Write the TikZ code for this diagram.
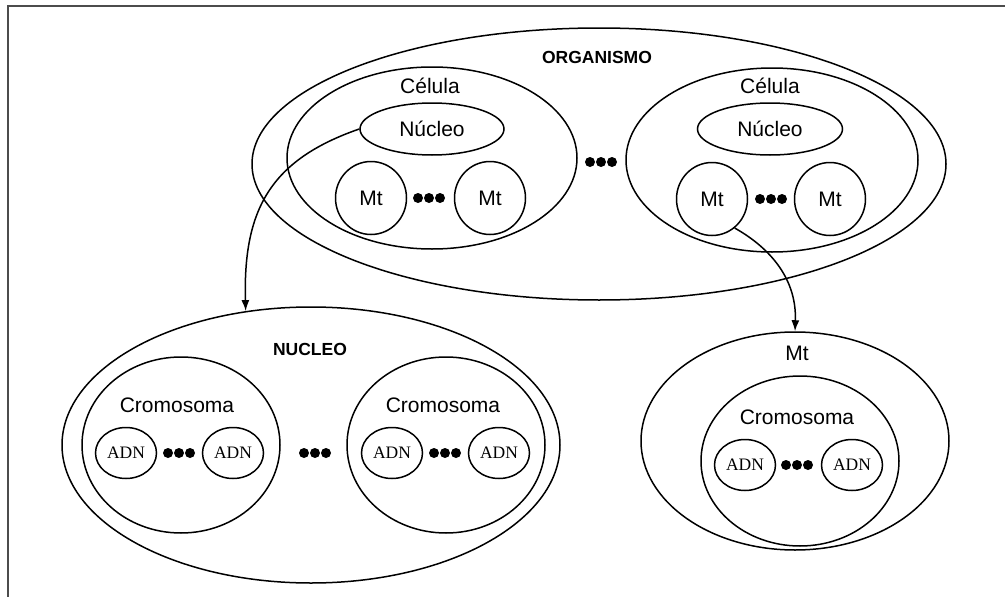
\documentclass[tikz,border=0pt]{standalone}
\usepackage{fontspec}
\setmainfont{Liberation Sans}
\newfontfamily\adnfont{Liberation Serif}
\usetikzlibrary{shapes.geometric,arrows.meta}
\tikzset{
  ell/.style={draw, ellipse, line width=1.5pt, inner sep=0pt},
  lbl/.style={inner sep=0pt, font=\fontsize{21}{21}\selectfont},
  blbl/.style={inner sep=0pt, font=\fontsize{17.5}{17.5}\selectfont\bfseries},
  adn/.style={ell, minimum width=61pt, minimum height=51pt, font=\adnfont\fontsize{17.5}{17.5}\selectfont},
  mt/.style={ell, minimum width=71pt, minimum height=73pt, font=\fontsize{21}{21}\selectfont},
  conn/.style={line width=1.5pt, -{Latex[length=11pt,width=8pt]}},
  frame/.style={line width=2pt, draw=black!70},
  tres/.pic={\fill (-11,0) circle (5pt) (0,0) circle (5pt) (11,0) circle (5pt);}
}
\begin{document}
\begin{tikzpicture}[x=1pt,y=-1pt]
\useasboundingbox (0,0) rectangle (1005,597);
\draw[frame] (8,597) -- (8,6) -- (1005,6);

% ORGANISMO
\node[ell, minimum width=694pt, minimum height=272pt] (org) at (599,164) {};
\node[blbl] (orgl) at (597,57) {ORGANISMO};
\node[ell, minimum width=290pt, minimum height=182pt] (cel1) at (432,158) {};
\node[lbl] (cel1l) at (430,86) {Célula};
\node[ell, minimum width=144pt, minimum height=52pt, font=\fontsize{21}{21}\selectfont] (nuc1) at (432,129) {Núcleo};
\node[mt] (mt1) at (371,198) {Mt};
\node[mt] (mt2) at (490,198) {Mt};
\pic at (429,198) {tres};
\pic at (601,162) {tres};
\node[ell, minimum width=292pt, minimum height=184pt] (cel2) at (772,160) {};
\node[lbl] (cel2l) at (770,86) {Célula};
\node[ell, minimum width=145pt, minimum height=52pt, font=\fontsize{21}{21}\selectfont] (nuc2) at (770,129) {Núcleo};
\node[mt] (mt3) at (712,199) {Mt};
\node[mt] (mt4) at (830,199) {Mt};
\pic at (771,199) {tres};

% NUCLEO
\node[ell, minimum width=498pt, minimum height=276pt] (nucb) at (311,445) {};
\node[blbl] (nucbl) at (310,349) {NUCLEO};
\node[ell, minimum width=198pt, minimum height=176pt] (cro1) at (181,445) {};
\node[lbl] (cro1l) at (177,405) {Cromosoma};
\node[adn] (adn1) at (126,453) {ADN};
\node[adn] (adn2) at (233,453) {ADN};
\pic at (179,453) {tres};
\pic at (315,453) {tres};
\node[ell, minimum width=198pt, minimum height=176pt] (cro2) at (446,445) {};
\node[lbl] (cro2l) at (443,405) {Cromosoma};
\node[adn] (adn3) at (392,453) {ADN};
\node[adn] (adn4) at (499,453) {ADN};
\pic at (445,453) {tres};

% Mt
\node[ell, minimum width=308pt, minimum height=218pt] (mtb) at (795,441) {};
\node[lbl] (mtbl) at (797,353) {Mt};
\node[ell, minimum width=198pt, minimum height=170pt] (cro3) at (800,461) {};
\node[lbl] (cro3l) at (797,417) {Cromosoma};
\node[adn] (adn5) at (745,465) {ADN};
\node[adn] (adn6) at (852,465) {ADN};
\pic at (797,465) {tres};

% connectors
\draw[conn] (nuc1.west) .. controls (270,160) and (243,210) .. (nucb.116.5);
\draw[conn] (mt3.-52) .. controls (765,245) and (797,275) .. (mtb.north);
\end{tikzpicture}
\end{document}
